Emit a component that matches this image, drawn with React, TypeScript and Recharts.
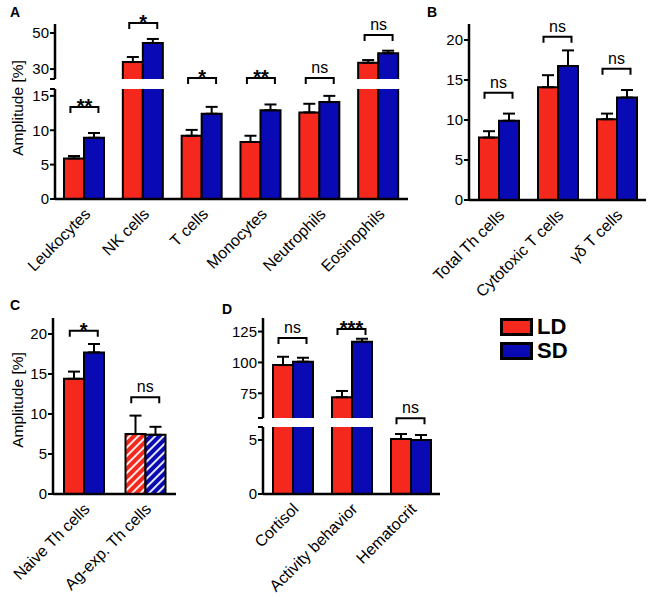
import React from "react";
import { ComposedChart, Bar, XAxis, YAxis, ErrorBar, ReferenceDot, Cell } from "recharts";

const FONT = 'Arial, "Liberation Sans", Helvetica, sans-serif';
const RED = "#f5281e";
const BLUE = "#0a0ab4";
const seriesNames = ["LD", "SD"];

// A: blood cell amplitudes (broken axis)
const catsA = ["Leukocytes", "NK cells", "T cells", "Monocytes", "Neutrophils", "Eosinophils"];
const ldA = [5.9, 33.9, 9.2, 8.3, 12.6, 33.5];
const ldErrA = [0.35, 2.8, 0.85, 0.9, 1.25, 1.5];
const sdA = [8.9, 44.5, 12.4, 12.9, 14.1, 38.8];
const sdErrA = [0.7, 2.2, 1.0, 0.85, 0.9, 1.4];
const sigYA = [13.4, 55.5, 25.0, 25.0, 25.0, 48.9];
const sigTextA = ["**", "*", "*", "**", "ns", "ns"];

// B: T cell subsets
const catsB = ["Total Th cells", "Cytotoxic T cells", "γδ T cells"];
const ldB = [7.8, 14.1, 10.1];
const ldErrB = [0.8, 1.5, 0.7];
const sdB = [9.9, 16.75, 12.8];
const sdErrB = [0.9, 1.95, 0.95];
const sigYB = [13.4, 20.4, 16.4];
const sigTextB = ["ns", "ns", "ns"];

// C: Th cell subsets
const catsC = ["Naive Th cells", "Ag-exp. Th cells"];
const ldC = [14.4, 7.5];
const ldErrC = [0.9, 2.3];
const sdC = [17.7, 7.4];
const sdErrC = [1.05, 1.0];
const sigYC = [20.4, 12.1];
const sigTextC = ["*", "ns"];
const hatchedC = [1];

// D: other measures (broken axis)
const catsD = ["Cortisol", "Activity behavior", "Hematocrit"];
const ldD = [97.9, 71.8, 5.09];
const ldErrD = [6.7, 5.1, 0.46];
const sdD = [100.6, 116.8, 5.0];
const sdErrD = [3.2, 2.4, 0.46];
const sigYD = [119.8, 127.1, 7.0];
const sigTextD = ["ns", "***", "ns"];

function rows(cats: string[], ld: number[], ldErr: number[], sd: number[], sdErr: number[], minVal = -Infinity) {
  return cats.map((c, i) => {
    const showL = ld[i] >= minVal;
    const showS = sd[i] >= minVal;
    return {
      cat: c,
      ld: showL ? ld[i] : null,
      ldErr: showL ? [0, ldErr[i]] : null,
      sd: showS ? sd[i] : null,
      sdErr: showS ? [0, sdErr[i]] : null,
    };
  });
}

function brackets(cats: string[], ys: number[], texts: string[], keep: (y: number) => boolean) {
  return cats.map((c, i) => ({ cat: c, y: ys[i], text: texts[i] })).filter((b) => keep(b.y));
}

const Bracket = ({ cx, cy, text }: any) => {
  const star = text.includes("*");
  return (
    <g>
      <path d={`M${cx - 14},${cy + 6} V${cy} H${cx + 14} V${cy + 6}`} stroke="#000" strokeWidth={2} fill="none" />
      <text
        x={cx}
        y={star ? cy + 6 : cy - 5}
        textAnchor="middle"
        fontSize={star ? 20 : 16}
        fontWeight={star ? "bold" : "normal"}
        fontFamily={FONT}
        fill="#000"
      >
        {text}
      </text>
    </g>
  );
};

// bar outline without the bottom edge, so the break gap stays clean
const OpenBar = (props: any) => {
  const { x, y, width, height, fill } = props;
  if (height == null || !width || height <= 0) return null;
  return (
    <g>
      <rect x={x} y={y} width={width} height={height} fill={fill} />
      <path d={`M${x},${y + height} V${y} H${x + width} V${y + height}`} stroke="#000" strokeWidth={2} fill="none" />
    </g>
  );
};

const AngledTick = (props: any) => {
  const { x, y, payload } = props;
  const ax = x + 7;
  const ay = y + 16;
  return (
    <text x={ax} y={ay} transform={`rotate(-45 ${ax} ${ay})`} textAnchor="end" fontSize={16} fontFamily={FONT} fill="#000">
      {payload.value}
    </text>
  );
};

function Segment(p: any) {
  const { left, top, width, height, margin, yWidth, domain, ticks, blank = [], showX, xHeight = 100, data, marks, hatched = [] } = p;
  return (
    <div style={{ position: "absolute", left, top }}>
      <ComposedChart width={width} height={height} data={data} margin={margin} barSize={20} barGap={0}>
        <defs>
          <pattern id="hatchRed" patternUnits="userSpaceOnUse" width="6" height="6" patternTransform="rotate(45)">
            <rect width="6" height="6" fill={RED} />
            <line x1="3" y1="0" x2="3" y2="6" stroke="#fff" strokeWidth="1.8" />
          </pattern>
          <pattern id="hatchBlue" patternUnits="userSpaceOnUse" width="6" height="6" patternTransform="rotate(45)">
            <rect width="6" height="6" fill={BLUE} />
            <line x1="3" y1="0" x2="3" y2="6" stroke="#fff" strokeWidth="1.8" />
          </pattern>
        </defs>
        <XAxis
          dataKey="cat"
          hide={!showX}
          height={showX ? xHeight : 0}
          interval={0}
          axisLine={{ stroke: "#000", strokeWidth: 2.5 }}
          tickLine={false}
          tickSize={0}
          tickMargin={0}
          tick={<AngledTick />}
        />
        <YAxis
          type="number"
          domain={domain}
          allowDataOverflow
          ticks={ticks}
          interval={0}
          width={yWidth}
          tickSize={5}
          tickMargin={1}
          tickFormatter={(v: number) => (blank.includes(v) ? "" : String(v))}
          axisLine={{ stroke: "#000", strokeWidth: 2.5 }}
          tickLine={{ stroke: "#000", strokeWidth: 2 }}
          tick={{ fill: "#000", fontSize: 15, fontFamily: FONT }}
        />
        <Bar dataKey="ld" name={seriesNames[0]} fill={RED} shape={<OpenBar />} isAnimationActive={false}>
          {data.map((_: any, i: number) => (
            <Cell key={i} fill={hatched.includes(i) ? "url(#hatchRed)" : RED} />
          ))}
          <ErrorBar dataKey="ldErr" direction="y" width={6} stroke="#000" strokeWidth={2} />
        </Bar>
        <Bar dataKey="sd" name={seriesNames[1]} fill={BLUE} shape={<OpenBar />} isAnimationActive={false}>
          {data.map((_: any, i: number) => (
            <Cell key={i} fill={hatched.includes(i) ? "url(#hatchBlue)" : BLUE} />
          ))}
          <ErrorBar dataKey="sdErr" direction="y" width={6} stroke="#000" strokeWidth={2} />
        </Bar>
        {marks.map((b: any) => (
          <ReferenceDot
            key={b.cat}
            x={b.cat}
            y={b.y}
            ifOverflow="visible"
            shape={(s: any) => <Bracket cx={s.cx} cy={s.cy} text={b.text} />}
          />
        ))}
      </ComposedChart>
    </div>
  );
}

const Letter = ({ x, y, children }: any) => (
  <div style={{ position: "absolute", left: x, top: y, fontSize: 14, fontWeight: "bold", lineHeight: 1 }}>{children}</div>
);

const YTitle = ({ x, y }: any) => (
  <div
    style={{
      position: "absolute",
      left: x,
      top: y,
      transform: "translate(-50%, -50%) rotate(-90deg)",
      fontSize: 15.5,
      whiteSpace: "nowrap",
      lineHeight: 1,
    }}
  >
    Amplitude [%]
  </div>
);

export default function App() {
  const upA = 24.5;
  const upD = 55;
  return (
    <div style={{ position: "absolute", left: 0, top: 0, width: 649, height: 596, background: "#fff", fontFamily: FONT, color: "#000" }}>
      {/* A */}
      <Segment
        left={0} top={0} width={420} height={300}
        margin={{ top: 89, right: 12, bottom: 0, left: 0 }}
        yWidth={55} xHeight={101} showX
        domain={[0, 16]} ticks={[0, 5, 10, 15, 16]} blank={[16]}
        data={rows(catsA, ldA, ldErrA, sdA, sdErrA)}
        marks={brackets(catsA, sigYA, sigTextA, (y) => y < upA)}
      />
      <Segment
        left={0} top={0} width={420} height={90}
        margin={{ top: 24, right: 12, bottom: 11, left: 0 }}
        yWidth={55}
        domain={[upA, 55]} ticks={[upA, 30, 50]} blank={[upA]}
        data={rows(catsA, ldA, ldErrA, sdA, sdErrA, upA)}
        marks={brackets(catsA, sigYA, sigTextA, (y) => y >= upA)}
      />
      {/* B */}
      <Segment
        left={420} top={0} width={229} height={300}
        margin={{ top: 24, right: 3, bottom: 0, left: 0 }}
        yWidth={49} xHeight={100} showX
        domain={[0, 22]} ticks={[0, 5, 10, 15, 20]}
        data={rows(catsB, ldB, ldErrB, sdB, sdErrB)}
        marks={brackets(catsB, sigYB, sigTextB, () => true)}
      />
      {/* C */}
      <Segment
        left={0} top={290} width={200} height={306}
        margin={{ top: 28, right: 24, bottom: 0, left: 0 }}
        yWidth={53} xHeight={102} showX
        domain={[0, 22]} ticks={[0, 5, 10, 15, 20]}
        data={rows(catsC, ldC, ldErrC, sdC, sdErrC)}
        marks={brackets(catsC, sigYC, sigTextC, () => true)}
        hatched={hatchedC}
      />
      {/* D */}
      <Segment
        left={210} top={290} width={240} height={306}
        margin={{ top: 137, right: 10, bottom: 0, left: 0 }}
        yWidth={53} xHeight={102} showX
        domain={[0, 6.2]} ticks={[0, 5, 6.2]} blank={[6.2]}
        data={rows(catsD, ldD, ldErrD, sdD, sdErrD)}
        marks={brackets(catsD, sigYD, sigTextD, (y) => y < upD)}
      />
      <Segment
        left={210} top={290} width={240} height={140}
        margin={{ top: 28, right: 10, bottom: 12, left: 0 }}
        yWidth={53}
        domain={[upD, 136]} ticks={[upD, 75, 100, 125]} blank={[upD]}
        data={rows(catsD, ldD, ldErrD, sdD, sdErrD, upD)}
        marks={brackets(catsD, sigYD, sigTextD, (y) => y >= upD)}
      />

      <Letter x={10} y={5}>A</Letter>
      <Letter x={427} y={5}>B</Letter>
      <Letter x={10} y={298}>C</Letter>
      <Letter x={222} y={302}>D</Letter>
      <YTitle x={18} y={108} />
      <YTitle x={18} y={400} />

      {/* legend */}
      {seriesNames.map((n, i) => (
        <div key={n} style={{ position: "absolute", left: 500, top: 318 + i * 24, display: "flex", alignItems: "center" }}>
          <div style={{ width: 33, height: 18, boxSizing: "border-box", border: "3px solid #000", background: i === 0 ? RED : BLUE }} />
          <span style={{ marginLeft: 4, fontSize: 22, fontWeight: "bold", lineHeight: "18px" }}>{n}</span>
        </div>
      ))}
    </div>
  );
}
